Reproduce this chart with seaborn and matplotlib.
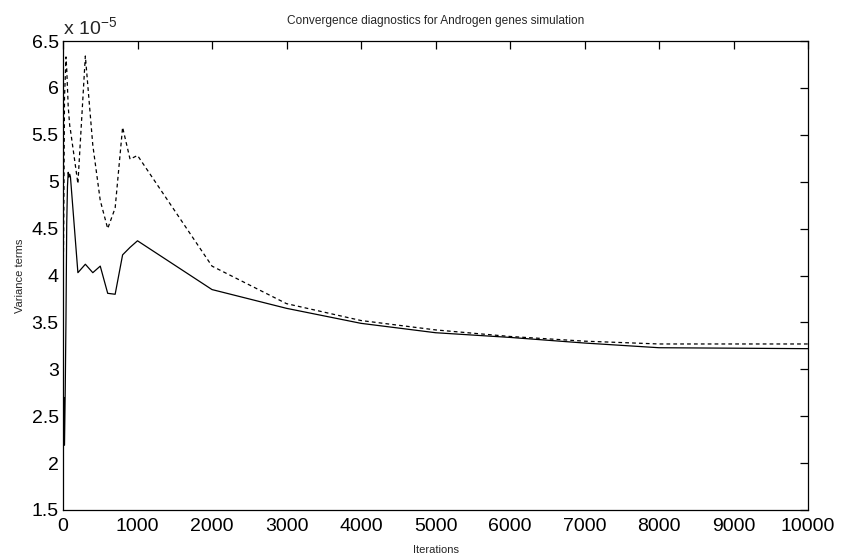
import matplotlib
matplotlib.use("Agg")
import matplotlib.pyplot as plt
import matplotlib.ticker as ticker
import pandas as pd
import seaborn as sns

# checkpoints of the sampler
iterations = [0, 10, 20, 30, 40, 50, 60, 70, 80, 90, 100,
              200, 300, 400, 500, 600, 700, 800, 900, 1000,
              2000, 3000, 4000, 5000, 6000, 7000, 8000, 9000, 10000]

# variance terms, in units of 1e-5
var_solid = [1.72, 2.70, 2.19, 2.78, 3.55, 4.55, 4.95, 5.10, 5.05, 5.08, 5.05,
             4.03, 4.12, 4.03, 4.10, 3.81, 3.80, 4.22, 4.30, 4.37,
             3.85, 3.65, 3.49, 3.39, 3.34, 3.28, 3.23, 3.225, 3.22]
var_dashed = [3.74, 4.60, 5.90, 6.10, 6.33, 6.20, 6.00, 5.80, 5.70, 5.60, 5.55,
              4.98, 6.34, 5.39, 4.80, 4.50, 4.72, 5.58, 5.24, 5.28,
              4.10, 3.70, 3.52, 3.42, 3.35, 3.30, 3.27, 3.27, 3.27]

df = pd.DataFrame({
    "iter": iterations * 2,
    "value": var_solid + var_dashed,
    "term": ["a"] * len(iterations) + ["b"] * len(iterations),
})

sns.set_style("white")
plt.rcParams["font.family"] = ["Liberation Sans", "DejaVu Sans"]
plt.rcParams["mathtext.default"] = "regular"

fig = plt.figure(figsize=(8.43, 5.54), dpi=100, facecolor="w")
ax = fig.add_axes([63 / 843, 1 - 510 / 554, 745 / 843, 469 / 554])

sns.lineplot(data=df, x="iter", y="value", style="term", color="black",
             dashes={"a": "", "b": (3, 2.5)}, linewidth=0.9,
             legend=False, ax=ax, sort=False, estimator=None)

ax.set_xlim(0, 10000)
ax.set_ylim(1.5, 6.5)
ax.xaxis.set_major_locator(ticker.MultipleLocator(1000))
ax.yaxis.set_major_locator(ticker.MultipleLocator(0.5))
ax.yaxis.set_major_formatter(ticker.FuncFormatter(lambda v, _: f"{v:g}"))

ax.tick_params(direction="in", length=6, width=0.9, top=True, right=True,
               labelsize=14, colors="black")
ax.tick_params(axis="x", pad=6)
ax.tick_params(axis="y", pad=3)
for s in ax.spines.values():
    s.set_color("black")
    s.set_linewidth(0.9)

ax.set_xlabel("Iterations", fontsize=8, labelpad=7)
ax.set_ylabel("Variance terms", fontsize=8, labelpad=5)
ax.set_title("Convergence diagnostics for Androgen genes simulation",
             fontsize=8.6, pad=12)
ax.text(0.0, 1.006, "x 10$^{-5}$", transform=ax.transAxes, fontsize=14,
        ha="left", va="bottom")

fig.savefig("out.png", dpi=100)
